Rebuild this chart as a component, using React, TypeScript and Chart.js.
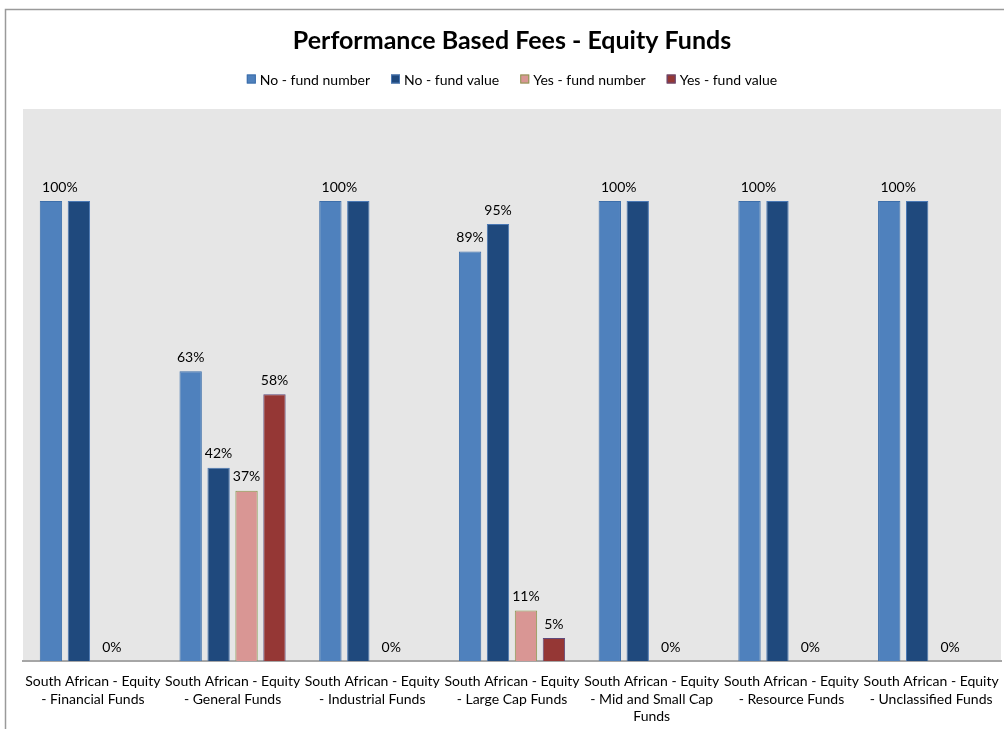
import { useEffect, useRef } from 'react';
import { Chart, registerables } from 'chart.js';

Chart.register(...registerables);

const titleText = 'Performance Based Fees - Equity Funds';

const categories: string[][] = [
  ['South African - Equity', '- Financial Funds'],
  ['South African - Equity', '- General Funds'],
  ['South African - Equity', '- Industrial Funds'],
  ['South African - Equity', '- Large Cap Funds'],
  ['South African - Equity', '- Mid and Small Cap', 'Funds'],
  ['South African - Equity', '- Resource Funds'],
  ['South African - Equity', '- Unclassified Funds'],
];

const seriesNames = ['No - fund number', 'No - fund value', 'Yes - fund number', 'Yes - fund value'];
const noFundNumber = [1, 0.63, 1, 0.89, 1, 1, 1];
const noFundValue = [1, 0.42, 1, 0.95, 1, 1, 1];
const yesFundNumber = [0, 0.37, 0, 0.11, 0, 0, 0];
const yesFundValue: (number | null)[] = [null, 0.58, null, 0.05, null, null, null];

const fills = ['#4f81bd', '#1f497d', '#d99694', '#953735'];
const borders = ['#3c6eaa', '#4a78b4', '#8a9a50', '#604a7b'];

const FONT = 'Lato, "Open Sans", sans-serif';

const decorPlugin = {
  id: 'decor',
  beforeDraw(chart: any) {
    const { ctx, chartArea, width, height } = chart;
    ctx.save();
    ctx.fillStyle = '#ffffff';
    ctx.fillRect(0, 0, width, height);
    // outer frame
    ctx.strokeStyle = '#9a9a9a';
    ctx.lineWidth = 1.5;
    ctx.beginPath();
    ctx.moveTo(5.5, height + 5);
    ctx.lineTo(5.5, 9.5);
    ctx.lineTo(width + 5, 9.5);
    ctx.stroke();
    // plot background
    ctx.fillStyle = '#e6e6e6';
    ctx.fillRect(chartArea.left, chartArea.top, chartArea.right - chartArea.left, chartArea.bottom - chartArea.top);
    // title
    const cx = (chartArea.left + chartArea.right) / 2;
    ctx.fillStyle = '#000000';
    ctx.font = 'bold 25px ' + FONT;
    ctx.textAlign = 'center';
    ctx.textBaseline = 'middle';
    ctx.fillText(titleText, cx, 41);
    // legend
    ctx.font = '14px ' + FONT;
    const box = 9;
    const gapBox = 4;
    const gapItem = 21;
    const widths = seriesNames.map((n) => ctx.measureText(n).width);
    const total = widths.reduce((a, w) => a + box + gapBox + w, 0) + gapItem * (seriesNames.length - 1);
    let x = cx - total / 2;
    const ly = 79;
    ctx.textAlign = 'left';
    seriesNames.forEach((n, i) => {
      ctx.fillStyle = fills[i];
      ctx.fillRect(x, ly - box / 2, box, box);
      ctx.strokeStyle = borders[i];
      ctx.lineWidth = 1;
      ctx.strokeRect(x + 0.5, ly - box / 2 + 0.5, box - 1, box - 1);
      ctx.fillStyle = '#000000';
      ctx.fillText(n, x + box + gapBox, ly + 1);
      x += box + gapBox + widths[i] + gapItem;
    });
    ctx.restore();
  },
  afterDatasetsDraw(chart: any) {
    const { ctx } = chart;
    const ds = chart.data.datasets;
    ctx.save();
    ctx.font = '14px ' + FONT;
    ctx.fillStyle = '#000000';
    ctx.textAlign = 'center';
    ctx.textBaseline = 'middle';
    ds.forEach((d: any, i: number) => {
      const meta = chart.getDatasetMeta(i);
      meta.data.forEach((bar: any, j: number) => {
        const v = d.data[j];
        if (v === null || v === undefined) return;
        if (i === 1 && ds[0].data[j] === v) return;
        let dx = 0;
        if (i === 0 && ds[1].data[j] === v) {
          const other = chart.getDatasetMeta(1).data[j];
          dx = (other.x - bar.x) * 0.32;
        }
        if (v === 0) dx = 5;
        ctx.fillText(Math.round(v * 100) + '%', bar.x + dx, bar.y - 14);
      });
    });
    ctx.restore();
  },
};

export default function App() {
  const ref = useRef<HTMLCanvasElement | null>(null);
  useEffect(() => {
    if (!ref.current) return;
    const seriesData = [noFundNumber, noFundValue, yesFundNumber, yesFundValue];
    const chart = new Chart(ref.current, {
      type: 'bar',
      data: {
        labels: categories,
        datasets: seriesNames.map((name, i) => ({
          label: name,
          data: seriesData[i],
          backgroundColor: fills[i],
          borderColor: borders[i],
          borderWidth: 1,
          categoryPercentage: 0.8,
          barPercentage: 0.8,
        })),
      },
      options: {
        responsive: false,
        animation: false,
        devicePixelRatio: 1,
        layout: { padding: { top: 109, left: 23, right: 3, bottom: 0 } },
        plugins: {
          legend: { display: false },
          title: { display: false },
          tooltip: { enabled: false },
        },
        scales: {
          x: {
            grid: { display: false, drawTicks: false },
            border: { display: true, color: '#a6a6a6', width: 2 },
            ticks: {
              autoSkip: false,
              maxRotation: 0,
              minRotation: 0,
              padding: 12,
              color: '#000000',
              font: { family: FONT, size: 14, lineHeight: 1.25 },
            },
            afterFit: (scale: any) => {
              scale.height = 68;
              scale.paddingLeft = 0;
              scale.paddingRight = 0;
            },
          },
          y: {
            display: false,
            min: 0,
            max: 1.2,
          },
        },
      },
      plugins: [decorPlugin],
    });
    return () => chart.destroy();
  }, []);
  return (
    <canvas
      ref={ref}
      width={1004}
      height={729}
      style={{ position: 'absolute', left: 0, top: 0, width: 1004, height: 729 }}
    />
  );
}
